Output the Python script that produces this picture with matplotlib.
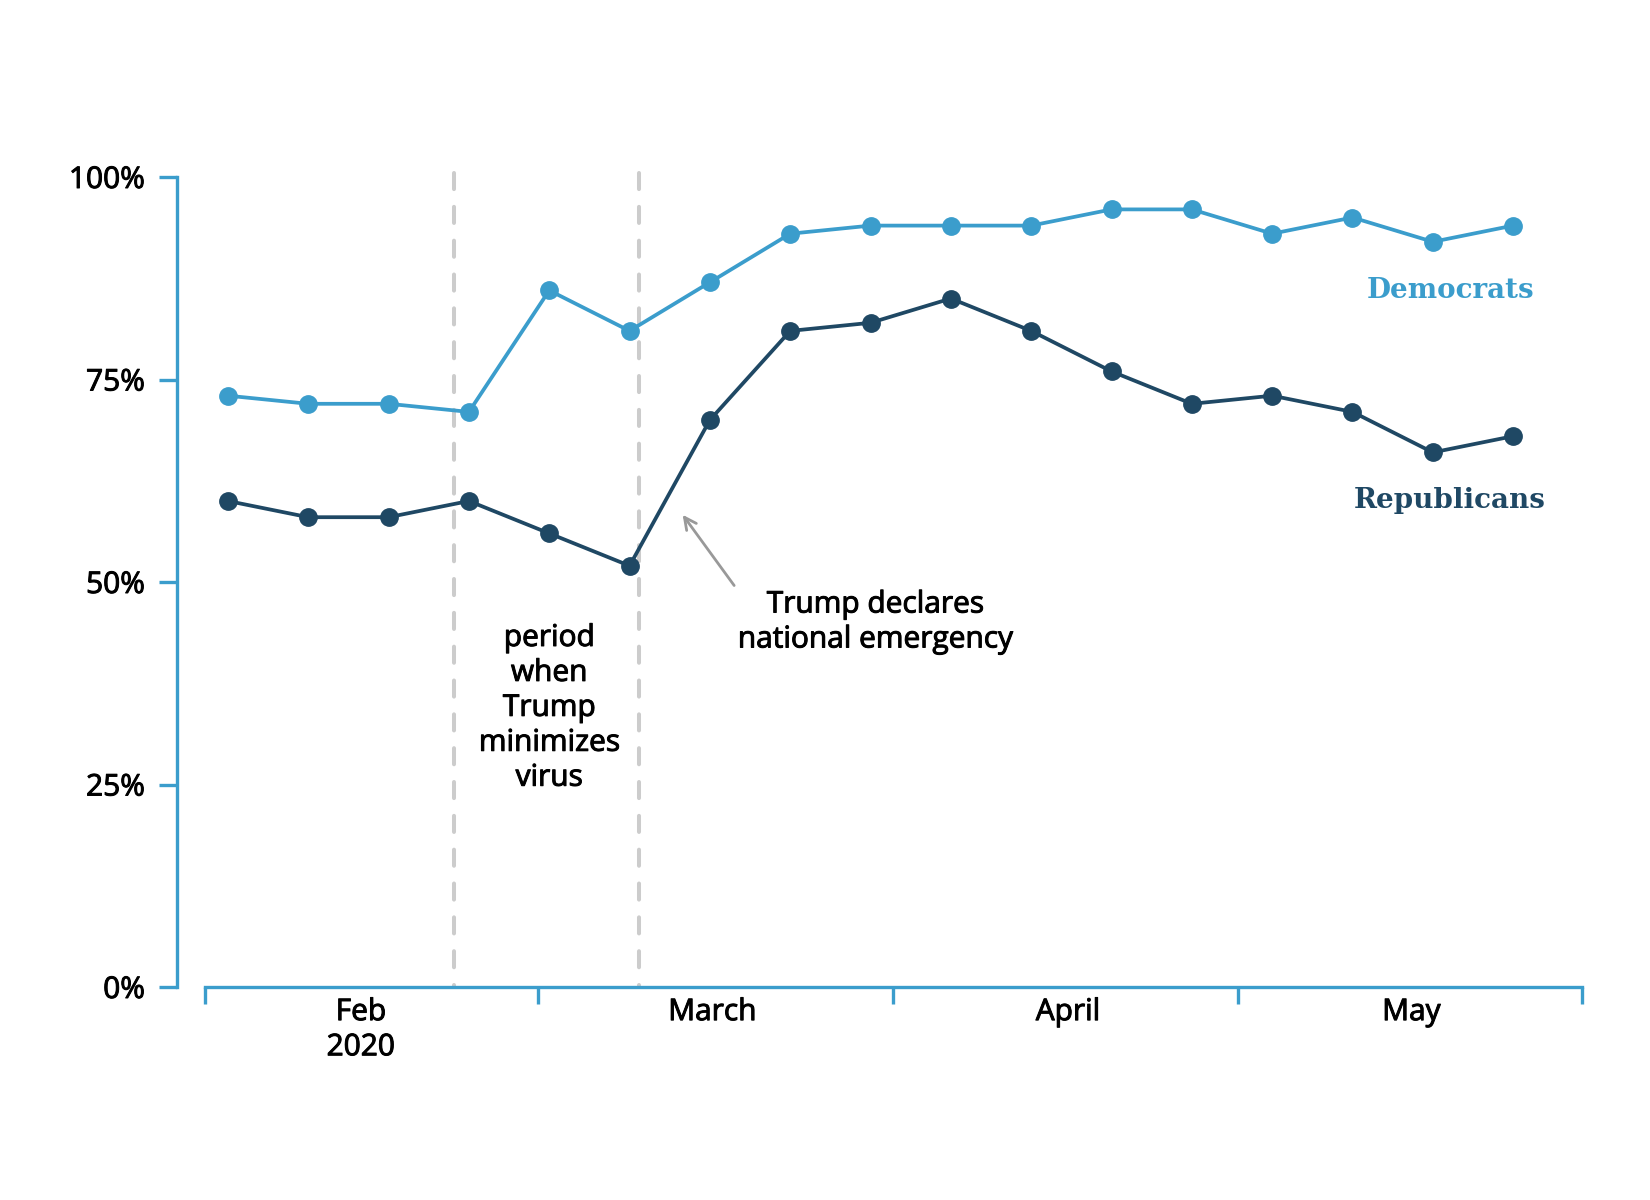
import pandas as pd
import matplotlib
matplotlib.use("Agg")
from matplotlib import pyplot as plt
import matplotlib.dates as mdates
import matplotlib.patheffects as pe

# Weekly survey dates and shares (%)
weeks = ["2020-02-03", "2020-02-10", "2020-02-17", "2020-02-24", "2020-03-02",
         "2020-03-09", "2020-03-16", "2020-03-23", "2020-03-30", "2020-04-06",
         "2020-04-13", "2020-04-20", "2020-04-27", "2020-05-04", "2020-05-11",
         "2020-05-18", "2020-05-25"]
democrats = [73, 72, 72, 71, 86, 81, 87, 93, 94, 94, 94, 96, 96, 93, 95, 92, 94]
republicans = [60, 58, 58, 60, 56, 52, 70, 81, 82, 85, 81, 76, 72, 73, 71, 66, 68]
month_edges = ["2020-02-01", "2020-03-01", "2020-04-01", "2020-05-01", "2020-05-31"]
month_mids = ["2020-02-14 14:00", "2020-03-16 05:00", "2020-04-16 05:00", "2020-05-16 03:00"]
month_labels = ["Feb\n2020", "March", "April", "May"]
period_lines = ["2020-02-22 16:00", "2020-03-09 20:00"]
yticks = [0, 25, 50, 75, 100]

DEM = "#3b9dcc"
REP = "#1f4864"
AX = "#3b9dcc"
FS = 21.5
# fake a semibold weight with a thin outline
BOLDISH = [pe.withStroke(linewidth=0.7, foreground="black")]

plt.rcParams['font.family'] = ['Open Sans', 'DejaVu Sans']
plt.rcParams['font.size'] = FS

x = pd.to_datetime(weeks)
edges = pd.to_datetime(month_edges)

fig = plt.figure(figsize=(16.5, 12), dpi=100)
ax = fig.add_axes([177/1650, (1200-987)/1200, (1582-177)/1650, (987-177)/1200])

# period lines, drawn top-down so the dashes start at 100%
for d in pd.to_datetime(period_lines):
    ax.plot([d, d], [100.5, 0], color="#cccccc", lw=2.9, dashes=(4, 4.4),
            dash_capstyle="round", zorder=1, clip_on=False)

ax.plot(x, democrats, color=DEM, lw=2.7, marker="o", ms=12.5, zorder=3, clip_on=False)
ax.plot(x, republicans, color=REP, lw=2.7, marker="o", ms=12.5, zorder=3, clip_on=False)

x0 = mdates.date2num(edges[0])
x1 = mdates.date2num(edges[-1])
ax.set_xlim(x0 - 2.44, x1)
ax.set_ylim(0, 100)

for s in ["top", "right"]:
    ax.spines[s].set_visible(False)
ax.spines["left"].set_color(AX)
ax.spines["left"].set_linewidth(2.4)
ax.spines["left"].set_bounds(0, 100)
ax.spines["bottom"].set_color(AX)
ax.spines["bottom"].set_linewidth(2.4)
ax.spines["bottom"].set_bounds(x0, x1)

ax.set_yticks(yticks)
ax.set_yticklabels([f"{v}%" for v in yticks])
ax.tick_params(axis="y", length=13, width=2.4, color=AX, pad=10, labelsize=FS)

ax.set_xticks(edges)
ax.set_xticklabels([""] * len(edges))
ax.set_xticks(pd.to_datetime(month_mids), minor=True)
ax.set_xticklabels(month_labels, minor=True, linespacing=1.28)
ax.tick_params(axis="x", which="major", length=12, width=2.4, color=AX, direction="out")
ax.tick_params(axis="x", which="minor", length=0, pad=8, labelsize=FS)

for t in ax.get_yticklabels() + ax.get_xticklabels(minor=True):
    t.set_path_effects(BOLDISH)

ax.text(pd.Timestamp("2020-03-02"), 34.4, "period\nwhen\nTrump\nminimizes\nvirus",
        ha="center", va="center", fontsize=FS, linespacing=1.27, path_effects=BOLDISH)
ax.annotate("Trump declares\nnational emergency",
            xy=(pd.Timestamp("2020-03-13 15:00"), 58.3),
            xytext=(pd.Timestamp("2020-03-30 10:00"), 45),
            ha="center", va="center", fontsize=FS, linespacing=1.27, path_effects=BOLDISH,
            arrowprops=dict(arrowstyle="->", color="#999999", lw=2,
                            shrinkA=2, shrinkB=0, relpos=(0.0, 1.0)))

ax.text(pd.Timestamp("2020-05-19 12:00"), 86, "Democrats", color=DEM,
        ha="center", va="center", fontsize=20, fontweight="bold",
        family=["DejaVu Serif"])
ax.text(pd.Timestamp("2020-05-19 12:00"), 60, "Republicans", color=REP,
        ha="center", va="center", fontsize=20, fontweight="bold",
        family=["DejaVu Serif"])

fig.savefig("out.png", dpi=100)
